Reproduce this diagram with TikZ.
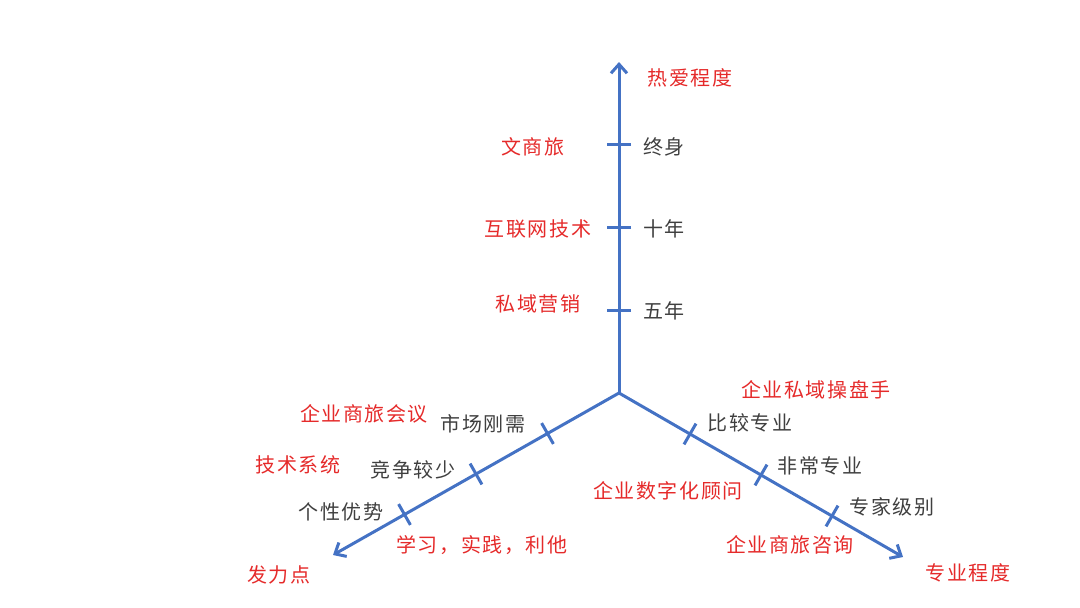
\documentclass[tikz,border=0pt]{standalone}
\usepackage{fontspec}
\newfontfamily\cjk[LetterSpace=8]{Noto Sans CJK SC}
\usetikzlibrary{arrows.meta, calc}
\definecolor{axisBlue}{HTML}{4472C4}
\definecolor{labelRed}{HTML}{E52A2A}
\definecolor{labelGray}{HTML}{3F3F3F}

\begin{document}
\begin{tikzpicture}[x=1pt, y=-1pt,
		axis/.style={draw=axisBlue, line width=3pt,
			-{Straight Barb[length=9pt, width=16pt]}},
		tick/.style={draw=axisBlue, line width=3pt},
		field/.style={text=labelRed, inner sep=0pt,
			font=\cjk\fontsize{20}{20}\selectfont},
		level/.style={text=labelGray, inner sep=0pt,
			font=\cjk\fontsize{20}{20}\selectfont}
		]
		
		\useasboundingbox (0,0) rectangle (1080,608);
		
		\coordinate (o) at (619,393);
		\coordinate (love) at (619,62);
		\coordinate (force) at (333,555);
		\coordinate (skill) at (903,557);
		
		\draw[axis] (o) -- (love);
		\draw[axis] (o) -- (force);
		\draw[axis] (o) -- (skill);
		
		\foreach \ax in {love, force, skill}
		\foreach \t/\k in {0.25/1, 0.5/2, 0.75/3} {
			\coordinate (\ax\k) at ($(o)!\t!(\ax)$);
			\draw[tick] ($(\ax\k)!12pt!90:(o)$) -- ($(\ax\k)!12pt!-90:(o)$);
		}
		
		\node[field] (loveName) at (690,78) {热爱程度};
		\node[field] (culture) at (533,147) {文商旅};
		\node[level] (life) at (664,147) {终身};
		\node[field] (internet) at (538,229) {互联网技术};
		\node[level] (decade) at (664,229) {十年};
		\node[field] (privateMkt) at (538,304) {私域营销};
		\node[level] (fiveYears) at (664,311) {五年};
		
		\node[field] (meeting) at (364,414) {企业商旅会议};
		\node[level] (demand) at (483,424) {市场刚需};
		\node[field] (techSys) at (298,465) {技术系统};
		\node[level] (fewRivals) at (413,470) {竞争较少};
		\node[level] (edge) at (341,512) {个性优势};
		\node[field] (practice) at (482,545) {学习，实践，利他};
		\node[field] (forceName) at (279,575) {发力点};
		
		\node[field] (operator) at (816,390) {企业私域操盘手};
		\node[level] (fairly) at (750,423) {比较专业};
		\node[level] (very) at (820,466) {非常专业};
		\node[field] (digital) at (668,491) {企业数字化顾问};
		\node[level] (expert) at (892,507) {专家级别};
		\node[field] (consult) at (790,545) {企业商旅咨询};
		\node[field] (skillName) at (968,573) {专业程度};
		
	\end{tikzpicture}
\end{document}
